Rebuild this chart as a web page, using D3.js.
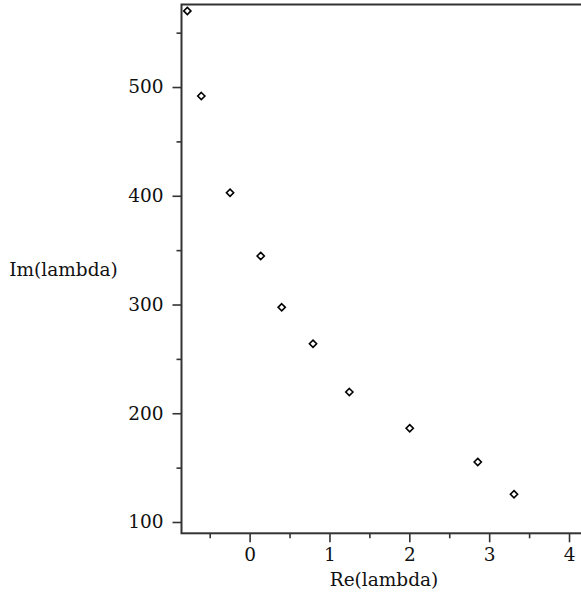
<!DOCTYPE html>
<html>
<head>
<meta charset="utf-8">
<script src="https://cdn.jsdelivr.net/npm/d3@7"></script>
<style>
  html, body { margin: 0; padding: 0; background: #fff; }
  svg { display: block; }
  text { font-family: "DejaVu Serif", serif; font-size: 18.5px; fill: #111; }
</style>
</head>
<body>
<script>
// Eigenvalues: real and imaginary parts
const reLambda = [-0.78, -0.605, -0.245, 0.139, 0.402, 0.794, 1.249, 2.005, 2.857, 3.311];
const imLambda = [570, 491.7, 402.8, 344.6, 297.4, 263.9, 219.5, 186.2, 155.2, 125.5];

const xTickValues = [0, 1, 2, 3, 4];
const xMinorValues = [-0.5, 0.5, 1.5, 2.5, 3.5];
const yTickValues = [100, 200, 300, 400, 500];
const yMinorValues = [150, 250, 350, 450, 550];

const xLabel = "Re(lambda)";
const yLabel = "Im(lambda)";

const W = 581, H = 595;
const plot = { left: 181.5, top: 4.5, bottom: 533.3, right: 581 };

const x = d3.scaleLinear().domain([-0.853, 4.15]).range([plot.left, plot.right]);
const y = d3.scaleLinear().domain([89.6, 575.9]).range([plot.bottom, plot.top]);

const svg = d3.select("body").append("svg").attr("width", W).attr("height", H);

const axisColor = "#333";
const fontSize = "18.5px";

// Major and minor x ticks
const xAxis = svg.append("g").attr("transform", `translate(0,${plot.bottom})`);
xAxis.call(d3.axisBottom(x).tickValues(xTickValues).tickFormat(d3.format("d")).tickSize(9).tickPadding(6));
xAxis.append("g").call(d3.axisBottom(x).tickValues(xMinorValues).tickFormat("").tickSize(5));

// Major and minor y ticks
const yAxis = svg.append("g").attr("transform", `translate(${plot.left},0)`);
yAxis.call(d3.axisLeft(y).tickValues(yTickValues).tickFormat(d3.format("d")).tickSize(9).tickPadding(9));
yAxis.append("g").call(d3.axisLeft(y).tickValues(yMinorValues).tickFormat("").tickSize(5));

svg.selectAll(".domain").remove();
svg.selectAll(".tick line").attr("stroke", axisColor).attr("stroke-width", 1.6);
svg.selectAll(".tick text")
  .style("font-family", '"DejaVu Serif", serif')
  .style("font-size", fontSize)
  .attr("fill", "#111");

// Plot frame (extends past the right edge of the canvas)
svg.append("rect")
  .attr("x", plot.left).attr("y", plot.top)
  .attr("width", plot.right - plot.left + 20).attr("height", plot.bottom - plot.top)
  .attr("fill", "none").attr("stroke", axisColor).attr("stroke-width", 2);

// Diamond markers
const pts = reLambda.map((r, i) => [r, imLambda[i]]);
const s = 3.6;
svg.append("g").selectAll("path").data(pts).join("path")
  .attr("d", d => `M${x(d[0])},${y(d[1]) - s}L${x(d[0]) + s},${y(d[1])}L${x(d[0])},${y(d[1]) + s}L${x(d[0]) - s},${y(d[1])}Z`)
  .attr("fill", "#fff").attr("stroke", "#000").attr("stroke-width", 1.6);

// Axis titles
svg.append("text").attr("x", 384).attr("y", 586).attr("text-anchor", "middle").text(xLabel);
svg.append("text").attr("x", 63.5).attr("y", 276).attr("text-anchor", "middle").text(yLabel);
</script>
</body>
</html>
